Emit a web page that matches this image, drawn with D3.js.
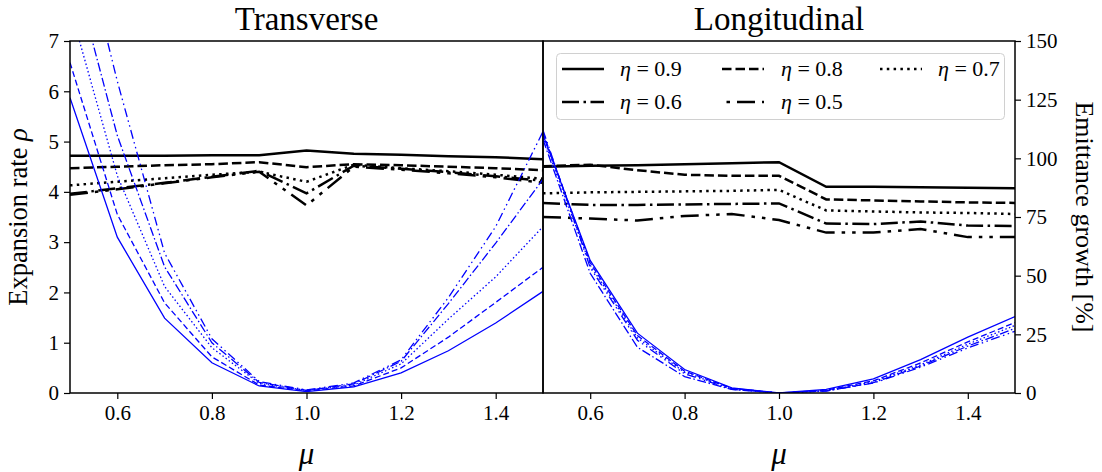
<!DOCTYPE html>
<html>
<head>
<meta charset="utf-8">
<script src="https://cdn.jsdelivr.net/npm/d3@7"></script>
<style>
  html, body { margin: 0; padding: 0; background: #fff; }
  svg { display: block; }
  text { font-family: "Liberation Serif", "Times New Roman", Times, "DejaVu Serif", serif; fill: #000; }
</style>
</head>
<body>
<svg id="chart" width="1102" height="472"></svg>
<script>
// ---------------- data ----------------
const mu = [0.5, 0.6, 0.7, 0.8, 0.9, 1.0, 1.1, 1.2, 1.3, 1.4, 1.5];
const etaLabels = ["0.9", "0.8", "0.7", "0.6", "0.5"];
const panelTitles = ["Transverse", "Longitudinal"];
const xTicks = [0.6, 0.8, 1.0, 1.2, 1.4];
const rhoTicks = [0, 1, 2, 3, 4, 5, 6, 7];
const pctTicks = [0, 25, 50, 75, 100, 125, 150];

// Expansion rate rho (black lines), transverse
const transRho09 = [4.72, 4.72, 4.72, 4.73, 4.73, 4.82, 4.76, 4.74, 4.71, 4.69, 4.65];
const transRho08 = [4.47, 4.50, 4.53, 4.55, 4.59, 4.49, 4.55, 4.53, 4.50, 4.47, 4.43];
const transRho07 = [4.13, 4.20, 4.27, 4.34, 4.40, 4.20, 4.54, 4.47, 4.41, 4.34, 4.26];
const transRho06 = [3.96, 4.07, 4.18, 4.30, 4.42, 3.97, 4.52, 4.46, 4.39, 4.31, 4.22];
const transRho05 = [3.94, 4.05, 4.17, 4.29, 4.40, 3.73, 4.50, 4.44, 4.37, 4.29, 4.18];

// Expansion rate rho (black lines), longitudinal
const longRho09 = [4.50, 4.52, 4.53, 4.55, 4.57, 4.59, 4.10, 4.10, 4.09, 4.08, 4.07];
const longRho08 = [4.51, 4.54, 4.43, 4.34, 4.32, 4.32, 3.85, 3.83, 3.81, 3.79, 3.78];
const longRho07 = [3.97, 3.99, 4.00, 4.01, 4.02, 4.04, 3.63, 3.61, 3.59, 3.58, 3.56];
const longRho06 = [3.78, 3.74, 3.74, 3.75, 3.76, 3.77, 3.37, 3.36, 3.41, 3.33, 3.32];
const longRho05 = [3.50, 3.47, 3.43, 3.52, 3.56, 3.44, 3.19, 3.19, 3.26, 3.10, 3.10];

// Emittance growth [%] (blue lines), transverse
const transEmit09 = [125.8, 66.4, 31.9, 12.9, 3.0, 0.6, 2.6, 8.6, 18.0, 29.8, 43.3];
const transEmit08 = [140.8, 76.1, 38.4, 15.4, 3.4, 0.9, 3.0, 10.7, 23.8, 38.6, 53.6];
const transEmit07 = [164.4, 92.6, 45.4, 19.3, 4.1, 1.1, 3.4, 12.4, 31.5, 49.5, 70.9];
const transEmit06 = [186.0, 109.7, 53.8, 21.4, 4.5, 1.1, 3.9, 13.5, 38.1, 63.9, 91.1];
const transEmit05 = [214.3, 132.9, 59.6, 23.1, 4.9, 1.3, 4.3, 14.1, 40.7, 70.9, 111.4];

// Emittance growth [%] (blue lines), longitudinal
const longEmit09 = [110.0, 56.5, 25.5, 10.0, 2.2, 0.0, 1.5, 6.0, 14.2, 23.8, 32.6];
const longEmit08 = [111.0, 55.5, 24.5, 9.3, 2.0, 0.0, 1.2, 5.2, 12.8, 21.8, 30.0];
const longEmit07 = [109.0, 54.5, 23.5, 8.8, 1.8, 0.0, 1.0, 4.8, 12.0, 20.8, 28.8];
const longEmit06 = [108.0, 51.0, 19.5, 7.0, 1.5, 0.0, 0.8, 4.4, 11.5, 20.0, 27.5];
const longEmit05 = [112.0, 53.5, 22.5, 8.2, 1.6, 0.0, 0.9, 4.2, 11.0, 19.2, 26.3];

// ---------------- layout / styles ----------------
const plotTop = 41, plotBottom = 393;
const panelX = [[70, 543], [543, 1015]];
const blackDash = ["none", "9.5,4", "2.5,4.3", "17,4.5,2.5,4.5", "18,7,3.5,7,3.5,7"];
const blueDash = ["none", "6,3", "1.5,2.4", "9,2.6,1.5,2.6", "9,3.5,1.5,3.5,1.5,3.5"];

const svg = d3.select("#chart");
const yRho = d3.scaleLinear().domain([0, 7]).range([plotBottom, plotTop]);
const yPct = d3.scaleLinear().domain([0, 150]).range([plotBottom, plotTop]);

const panels = [
  { title: panelTitles[0], black: [transRho09, transRho08, transRho07, transRho06, transRho05],
    blue: [transEmit09, transEmit08, transEmit07, transEmit06, transEmit05] },
  { title: panelTitles[1], black: [longRho09, longRho08, longRho07, longRho06, longRho05],
    blue: [longEmit09, longEmit08, longEmit07, longEmit06, longEmit05] }
];

const defs = svg.append("defs");

panels.forEach((p, pi) => {
  const [x0, x1] = panelX[pi];
  const x = d3.scaleLinear().domain([0.5, 1.5]).range([x0, x1]);
  const clipId = "clip" + pi;
  defs.append("clipPath").attr("id", clipId)
    .append("rect").attr("x", x0).attr("y", plotTop).attr("width", x1 - x0).attr("height", plotBottom - plotTop);

  const g = svg.append("g");
  const plot = g.append("g").attr("clip-path", `url(#${clipId})`);

  const lineRho = d3.line().x((d, i) => x(mu[i])).y(d => yRho(d));
  const linePct = d3.line().x((d, i) => x(mu[i])).y(d => yPct(d));

  p.black.forEach((s, k) => {
    plot.append("path").attr("d", lineRho(s))
      .attr("fill", "none").attr("stroke", "#000").attr("stroke-width", 2.5)
      .attr("stroke-dasharray", blackDash[k]);
  });
  p.blue.forEach((s, k) => {
    plot.append("path").attr("d", linePct(s))
      .attr("fill", "none").attr("stroke", "#0000ff").attr("stroke-width", 1.3)
      .attr("stroke-dasharray", blueDash[k]);
  });

  const xa = g.append("g").attr("transform", `translate(0,${plotBottom})`)
    .call(d3.axisBottom(x).tickValues(xTicks).tickFormat(d3.format(".1f")).tickSize(6).tickPadding(6).tickSizeOuter(0));
  xa.select(".domain").remove();
  xa.attr("font-family", null);
  xa.selectAll("line").attr("stroke", "#000").attr("stroke-width", 1.2);
  xa.selectAll("text").attr("font-size", 21);

  g.append("text").attr("x", (x0 + x1) / 2).attr("y", 464).attr("text-anchor", "middle")
    .attr("font-size", 31).attr("font-style", "italic").text("μ");

  g.append("text").attr("x", (x0 + x1) / 2).attr("y", 30).attr("text-anchor", "middle")
    .attr("font-size", 33).text(p.title);

  g.append("rect").attr("x", x0).attr("y", plotTop).attr("width", x1 - x0).attr("height", plotBottom - plotTop)
    .attr("fill", "none").attr("stroke", "#000").attr("stroke-width", 1.5);
});

const la = svg.append("g").attr("transform", `translate(${panelX[0][0]},0)`)
  .call(d3.axisLeft(yRho).tickValues(rhoTicks).tickFormat(d3.format("d")).tickSize(6).tickPadding(5).tickSizeOuter(0));
la.select(".domain").remove();
la.attr("font-family", null);
la.selectAll("line").attr("stroke", "#000").attr("stroke-width", 1.2);
la.selectAll("text").attr("font-size", 21);

const ra = svg.append("g").attr("transform", `translate(${panelX[1][1]},0)`)
  .call(d3.axisRight(yPct).tickValues(pctTicks).tickFormat(d3.format("d")).tickSize(6).tickPadding(5).tickSizeOuter(0));
ra.select(".domain").remove();
ra.attr("font-family", null);
ra.selectAll("line").attr("stroke", "#000").attr("stroke-width", 1.2);
ra.selectAll("text").attr("font-size", 21);

svg.append("text").attr("transform", `translate(27,${(plotTop + plotBottom) / 2}) rotate(-90)`)
  .attr("text-anchor", "middle").attr("font-size", 26.5)
  .html('Expansion rate <tspan font-style="italic">ρ</tspan>');
svg.append("text").attr("transform", `translate(1076,${(plotTop + plotBottom) / 2}) rotate(90)`)
  .attr("text-anchor", "middle").attr("font-size", 26)
  .text("Emittance growth [%]");

const leg = svg.append("g");
leg.append("rect").attr("x", 556.5).attr("y", 53.5).attr("width", 448).attr("height", 66)
  .attr("rx", 4).attr("fill", "#fff").attr("fill-opacity", 0.85)
  .attr("stroke", "#d0d0d0").attr("stroke-width", 1);
const legPos = [
  { lx: 562, tx: 620, y: 69 }, { lx: 722, tx: 781, y: 69 }, { lx: 880, tx: 938, y: 69 },
  { lx: 562, tx: 620, y: 102 }, { lx: 722, tx: 781, y: 102 }
];
const legOffset = [0, 0, 0, 0, 31];
etaLabels.forEach((lab, k) => {
  const p = legPos[k];
  leg.append("line").attr("x1", p.lx).attr("x2", p.lx + 42).attr("y1", p.y).attr("y2", p.y)
    .attr("stroke", "#000").attr("stroke-width", 2.5)
    .attr("stroke-dasharray", blackDash[k]).attr("stroke-dashoffset", legOffset[k]);
  leg.append("text").attr("x", p.tx).attr("y", p.y + 7).attr("font-size", 22)
    .html(`<tspan font-style="italic">η</tspan>\u2005=\u2005${lab}`);
});
</script>
</body>
</html>
